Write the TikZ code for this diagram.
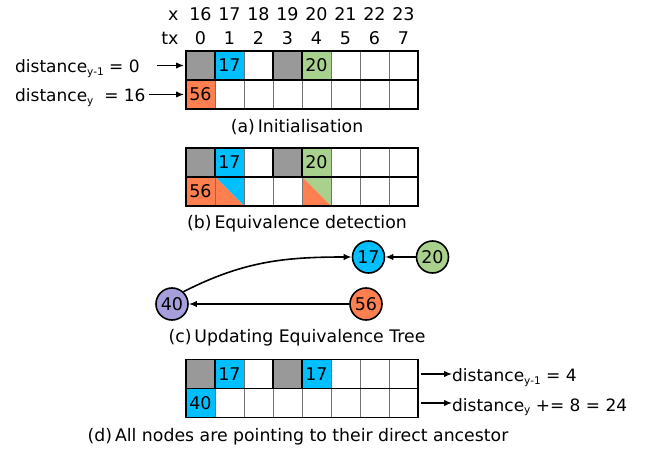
\documentclass[tikz,border=0pt]{standalone}
\usepackage{fontspec}
\setmainfont{DejaVu Sans}
\usepackage{tikz}
\usetikzlibrary{arrows}
\usetikzlibrary{arrows.meta}
\usetikzlibrary{positioning}

\definecolor{cellgray}{HTML}{999999}
\definecolor{cellblue}{HTML}{00BFFF}
\definecolor{cellgreen}{HTML}{A9D18E}
\definecolor{cellorange}{HTML}{FF7F50}
\definecolor{nodepurple}{HTML}{A5A0DC}

\newcommand{\dsub}[1]{\raisebox{-0.3ex}{\fontsize{10.5}{12}\selectfont #1}}

\tikzset{
  cell/.style={rectangle,draw=black!55,line width=0.8pt,minimum size=29pt,
    inner sep=0pt,outer sep=0pt},
  gy/.style={fill=cellgray},
  bl/.style={fill=cellblue},
  gr/.style={fill=cellgreen},
  og/.style={fill=cellorange},
  wh/.style={fill=white},
  half/.style={path picture={
    \fill[#1] (path picture bounding box.north west) -- (path picture bounding box.north east)
      -- (path picture bounding box.south east) -- cycle;
    \fill[cellorange] (path picture bounding box.north west) -- (path picture bounding box.south west)
      -- (path picture bounding box.south east) -- cycle;}},
  blhalf/.style={half=cellblue},
  grhalf/.style={half=cellgreen},
  group/.style={draw=black,line width=1.8pt},
  tree/.style={circle,draw=black,line width=1.6pt,minimum size=32pt,inner sep=0pt},
  dist/.style={font=\fontsize{17}{20}\selectfont,anchor=base west,inner sep=0pt},
  caption/.style={font=\fontsize{17.3}{20}\selectfont},
  pointer/.style={->,line width=1.3pt},
}

\newcommand{\cellgrid}[4]{%
  \foreach \i/\c/\t in {#3}
    \node[cell,\c] (#1r1c\i) at (200.5+29*\i,#2+14.5) {\t};
  \foreach \i/\c/\t in {#4}
    \node[cell,\c] (#1r2c\i) at (200.5+29*\i,#2+43.5) {\t};
  \draw[group] (#1r1c0.north west) rectangle (#1r1c7.south east);
  \draw[group] (#1r2c0.north west) rectangle (#1r2c7.south east);
  \draw[group] (#1r1c1.north west) rectangle (#1r1c2.south east);
  \draw[group] (#1r1c4.north west) rectangle (#1r1c7.south east);
}

\begin{document}
\begin{tikzpicture}[x=1pt,y=-1pt,>={Latex[length=8pt,width=6.5pt]},
    font=\fontsize{17.5}{20}\selectfont]

  \useasboundingbox (0,0) rectangle (659,449);

  \node[anchor=base east] (xlab) at (182,20.7) {x};
  \node[anchor=base east] (txlab) at (182,45) {tx};
  \foreach \x [count=\i from 0] in {16,...,23}
    \node[anchor=base] (xh\i) at (200.5+29*\i,20.7) {\x};
  \foreach \i in {0,...,7}
    \node[anchor=base] (txh\i) at (200.5+29*\i,45) {\i};

  \cellgrid{a}{51}{0/gy/{},1/bl/17,2/wh/{},3/gy/{},4/gr/20,5/wh/{},6/wh/{},7/wh/{}}
    {0/og/56,1/wh/{},2/wh/{},3/wh/{},4/wh/{},5/wh/{},6/wh/{},7/wh/{}}

  \node[dist] (dprev) at (15,72.5) {distance\dsub{y-1} = 0};
  \node[dist] (dcur) at (15,101.5) {distance\dsub{y}\ \ = 16};
  \coordinate (dprevs) at (157,65.5);
  \draw[pointer,shorten >=2pt] (dprevs) -- (ar1c0.west);
  \draw[pointer,shorten >=2pt,shorten <=3pt] (ar2c0.west -| dcur.east) -- (ar2c0.west);

  \node[caption] (capa) at (297,127) {(a)\,Initialisation};

  \cellgrid{b}{148}{0/gy/{},1/bl/17,2/wh/{},3/gy/{},4/gr/20,5/wh/{},6/wh/{},7/wh/{}}
    {0/og/56,1/blhalf/{},2/wh/{},3/wh/{},4/grhalf/{},5/wh/{},6/wh/{},7/wh/{}}

  \node[caption] (capb) at (297,224) {(b)\,Equivalence detection};

  \node[tree,fill=cellblue] (t17) at (368.5,257) {17};
  \node[tree,fill=cellgreen] (t20) at (432.5,257) {20};
  \node[tree,fill=nodepurple] (t40) at (172,304) {40};
  \node[tree,fill=cellorange] (t56) at (366,304) {56};

  \path[pointer,line width=1.6pt]
    (t20) edge (t17)
    (t56) edge (t40)
    (t40.47) edge [out=27,in=180] (t17.west);

  \node[caption] (capc) at (297,338) {(c)\,Updating Equivalence Tree};

  \cellgrid{d}{359.5}{0/gy/{},1/bl/17,2/wh/{},3/gy/{},4/bl/17,5/wh/{},6/wh/{},7/wh/{}}
    {0/bl/40,1/wh/{},2/wh/{},3/wh/{},4/wh/{},5/wh/{},6/wh/{},7/wh/{}}

  \node[dist] (rprev) at (452,381.5) {distance\dsub{y-1}\ = 4};
  \node[dist] (rcur) at (452,411) {distance\dsub{y} += 8 = 24};
  \draw[pointer,shorten <=3pt] (dr1c7.east) -- (dr1c7.east -| rprev.west);
  \draw[pointer,shorten <=3pt] (dr2c7.east) -- (dr2c7.east -| rcur.west);

  \node[caption] (capd) at (298,437) {(d)\,All nodes are pointing to their direct ancestor};

\end{tikzpicture}
\end{document}
